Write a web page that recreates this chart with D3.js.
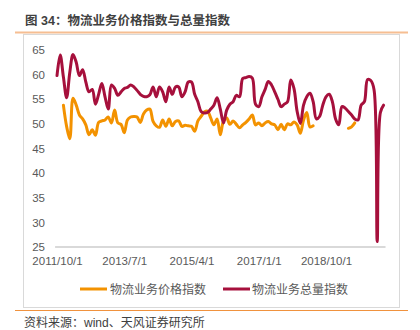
<!DOCTYPE html>
<html><head><meta charset="utf-8">
<script src="https://cdn.jsdelivr.net/npm/d3@7"></script>
<style>
html,body{margin:0;padding:0;background:#fff;}
svg{display:block;font-family:"Liberation Sans","Noto Sans CJK SC",sans-serif;}
</style></head>
<body>
<svg id="c" width="420" height="330"></svg>
<script>
// ---- data ----
const startMonth = new Date(2011, 9, 1);   // 2011/10
const monthCount = 103;                     // 2011/10 .. 2020/04
const categories = d3.timeMonth.range(startMonth, d3.timeMonth.offset(startMonth, monthCount));

const priceIndex = [
  null, null, 53.8, 49.5, 47.0, 55.2, 53.8, 51.8, 51.0, 49.8,
  47.8, 48.8, 47.7, 50.3, 50.6, 50.8, 51.4, 50.2, 52.8, 50.2,
  49.9, 48.2, 50.8, 51.4, 51.5, 51.4, 50.3, 52.0, 52.8, 53.0,
  50.5, 49.6, 49.3, 50.8, 49.5, 51.0, 49.6, 50.5, 50.6, 49.5,
  49.7, 49.6, 49.5, 48.5, 50.6, 51.5, 52.4, 52.6, 51.2, 49.8,
  51.0, 47.8, 50.6, 51.2, 49.9, 50.6, 49.9, 49.2, 49.8, 50.3,
  51.0, 51.8, 49.8, 50.2, 49.6, 50.2, 50.5, 50.0, 49.8, 48.8,
  49.9, 48.8, 50.0, 49.8, 50.4, 49.8, 48.1, 50.8, 52.3, 49.4,
  49.6, null, null, null, null, null, null, null, null, null,
  null, 49.1, 49.4, 50.2, null, null, null, null, null, null,
  null, null, null
];
const volumeIndex = [
  59.8, 64.0, 59.5, 55.3, 60.5, 64.1, 62.5, 59.8, 61.0, 58.5,
  56.5, 57.0, 54.0, 56.0, 58.2, 55.5, 53.0, 57.9, 57.2, 55.8,
  56.5, 57.2, 57.4, 57.9, 57.5, 56.8, 56.0, 55.6, 55.5, 55.9,
  57.5, 55.5, 57.5, 56.5, 54.5, 57.5, 56.0, 57.5, 57.5, 55.5,
  56.5, 58.5, 58.5, 56.0, 54.5, 52.5, 52.2, 52.3, 53.0, 53.8,
  55.3, 53.0, 50.2, 52.8, 54.0, 54.5, 55.8, 55.5, 59.2, 59.4,
  59.6, 59.3, 54.0, 53.5, 55.5, 57.0, 58.6, 57.9, 56.5, 55.0,
  53.5, 54.0, 54.5, 58.9, 57.2, 52.5, 50.1, 53.8, 55.5, 56.2,
  54.5, 51.0, 51.5, 53.8, 55.5, 56.0, 54.5, 51.0, 49.8, 53.5,
  53.2, 52.5, 51.8, 51.0, 50.8, 53.8, 54.5, 59.0, 58.8, 57.0,
  26.1, 52.3, 53.8
];
const yTicks = [25, 30, 35, 40, 45, 50, 55, 60, 65];
const xTickLabels = ["2011/10/1", "2013/7/1", "2015/4/1", "2017/1/1", "2018/10/1"];
const seriesNames = ["物流业务价格指数", "物流业务总量指数"];
const colors = ["#F39200", "#A6103C"];
const titleText = "图 34：物流业务价格指数与总量指数";
const sourceText = "资料来源：wind、天风证券研究所";

// ---- drawing ----
const svg = d3.select("#c");

// title
svg.append("text").attr("x", 25).attr("y", 25)
  .attr("font-size", 12.5).attr("font-weight", "bold").attr("fill", "#404040")
  .text(titleText);
svg.append("line").attr("x1", 15).attr("x2", 408).attr("y1", 32.5).attr("y2", 32.5)
  .attr("stroke", "#F6BE92").attr("stroke-width", 2);

// frame
svg.append("rect").attr("x", 23.5).attr("y", 34.5).attr("width", 376).attr("height", 273)
  .attr("fill", "none").attr("stroke", "#D9D9D9").attr("stroke-width", 1);

// bottom rule & source
svg.append("line").attr("x1", 15).attr("x2", 408).attr("y1", 310.5).attr("y2", 310.5)
  .attr("stroke", "#F0923E").attr("stroke-width", 1.2);
svg.append("text").attr("x", 24).attr("y", 327)
  .attr("font-size", 12).attr("fill", "#404040").text(sourceText);

// scales
const parse = d3.timeParse("%Y/%m/%d");
const tickDates = xTickLabels.map(s => parse(s));
const x = d3.scaleLinear().domain([0, monthCount - 1]).range([57, 57 + (monthCount - 1) * 3.202]);
const idx = d => d3.timeMonth.count(startMonth, d);
const y = d3.scaleLinear().domain([25, 65]).range([247, 50]);

// x axis baseline
svg.append("line").attr("x1", x(-0.6)).attr("x2", x(monthCount - 0.4))
  .attr("y1", y(25)).attr("y2", y(25))
  .attr("stroke", "#D9D9D9").attr("stroke-width", 1.8);

// x axis labels
const xAxis = d3.axisBottom(x).tickValues(tickDates.map(idx))
  .tickSize(0).tickPadding(10)
  .tickFormat((d, i) => xTickLabels[i]);
const gx = svg.append("g").attr("transform", `translate(0,${y(25)})`).call(xAxis);
gx.select(".domain").remove();
gx.selectAll("text").attr("font-size", 11.5).attr("fill", "#595959")
  .attr("font-family", "Liberation Sans, sans-serif");

// y axis labels
const yAxis = d3.axisLeft(y).tickValues(yTicks).tickSize(0).tickPadding(2);
const gy = svg.append("g").attr("transform", "translate(47,0)").call(yAxis);
gy.select(".domain").remove();
gy.selectAll("text").attr("font-size", 11.5).attr("fill", "#595959")
  .attr("font-family", "Liberation Sans, sans-serif");

// lines
const line = d3.line()
  .defined(d => d.v != null)
  .x(d => x(d.i)).y(d => y(d.v))
  .curve(d3.curveCatmullRom.alpha(0.5));

[priceIndex, volumeIndex].forEach((arr, k) => {
  const pts = categories.map((c, i) => ({ i: idx(c), v: arr[i] }));
  svg.append("path").datum(pts)
    .attr("d", line)
    .attr("fill", "none")
    .attr("stroke", colors[k])
    .attr("stroke-width", 3)
    .attr("stroke-linejoin", "round")
    .attr("stroke-linecap", "round");
});

// legend
const legendPos = [[80, 110], [223, 252]];
seriesNames.forEach((name, k) => {
  const [lx, tx] = legendPos[k];
  svg.append("line").attr("x1", lx).attr("x2", lx + 27).attr("y1", 289).attr("y2", 289)
    .attr("stroke", colors[k]).attr("stroke-width", 3);
  svg.append("text").attr("x", tx).attr("y", 293.5)
    .attr("font-size", 12).attr("fill", "#595959")
    .attr("font-family", "Noto Sans CJK SC, sans-serif").text(name);
});
</script>
</body></html>
